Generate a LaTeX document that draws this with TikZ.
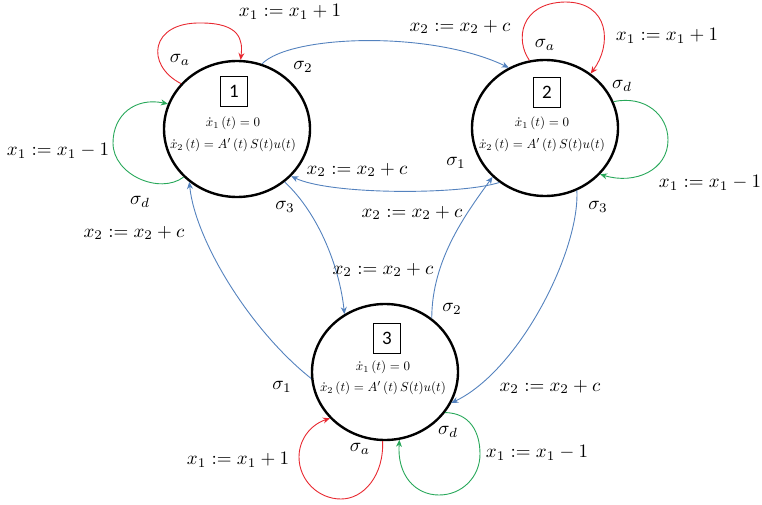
\documentclass[tikz,border=0pt]{standalone}
\usepackage{fontspec}
\newfontfamily\boxfont{Carlito}
\usetikzlibrary{shapes.geometric,arrows.meta}
\definecolor{redl}{RGB}{232,40,48}
\definecolor{greenl}{RGB}{40,168,90}
\definecolor{bluel}{RGB}{84,130,190}
\begin{document}
\begin{tikzpicture}[x=1pt,y=-1pt,
  state/.style={ellipse,draw,line width=2.4pt,minimum width=146pt,minimum height=136pt,inner sep=0pt},
  numbox/.style={draw,line width=0.8pt,minimum width=27pt,minimum height=30pt,inner sep=0pt,font=\boxfont\fontsize{19}{19}\selectfont},
  eqn/.style={scale=1.3,inner sep=0pt},
  lbl/.style={scale=1.9,inner sep=0pt},
  tip/.style={-{Stealth[length=7pt,width=6pt]}},
  blueedge/.style={draw=bluel,line width=0.9pt,tip},
  redloop/.style={draw=redl,line width=0.9pt,tip},
  greenloop/.style={draw=greenl,line width=0.9pt,tip}
]
\useasboundingbox (0,0) rectangle (762,505);

% states
\node[state] (n1) at (237,129) {};
\node[state] (n2) at (545,128) {};
\node[state] (n3) at (385,372) {};

% contents
\node[numbox] (b1) at (234,91) {1};
\node[eqn] (e1a) at (233,123) {$\dot{x}_1\left(t\right)=0$};
\node[eqn] (e1b) at (233,145) {$\dot{x}_2\left(t\right)=A'\left(t\right)S(t)u(t)$};
\node[numbox] (b2) at (547,92) {2};
\node[eqn] (e2a) at (542,123) {$\dot{x}_1\left(t\right)=0$};
\node[eqn] (e2b) at (542,145) {$\dot{x}_2\left(t\right)=A'\left(t\right)S(t)u(t)$};
\node[numbox] (b3) at (387,338) {3};
\node[eqn] (e3a) at (383,367) {$\dot{x}_1\left(t\right)=0$};
\node[eqn] (e3b) at (383,388) {$\dot{x}_2\left(t\right)=A'\left(t\right)S(t)u(t)$};

% self loops
\draw[redloop] (n1.141) .. controls (145,65) and (150,22) .. (201,23)
  .. controls (240,23) and (243,40) .. (n1.87);
\draw[greenloop] (n1.-138) .. controls (160,195) and (113,175) .. (113,143)
  .. controls (113,115) and (135,97) .. (n1.160);
\draw[redloop] (n2.103) .. controls (515,40) and (520,3) .. (565,2)
  .. controls (610,2) and (612,45) .. (n2.50);
\draw[greenloop] (n2.21) .. controls (645,95) and (668,115) .. (668,140)
  .. controls (668,170) and (635,185) .. (n2.-40);
\draw[redloop] (n3.-92) .. controls (384,475) and (364,499) .. (341,499)
  .. controls (318,499) and (299,480) .. (299,457)
  .. controls (299,440) and (310,425) .. (n3.-140);
\draw[greenloop] (n3.-34) .. controls (470,413) and (480,432) .. (480,454)
  .. controls (480,477) and (462,495) .. (439,495)
  .. controls (415,495) and (397,475) .. (n3.-78);

% transitions
\draw[blueedge] (n1.69) .. controls (290,35) and (430,30) .. (n2.121);
\draw[blueedge] (n2.-130) .. controls (460,195) and (330,195) .. (n1.-41);
\draw[blueedge] (n1.-48) .. controls (320,215) and (340,270) .. (n3.125);
\draw[blueedge] (n3.-175) .. controls (250,330) and (195,240) .. (n1.-132);
\draw[blueedge] (n3.49) .. controls (432,260) and (465,215) .. (n2.-137);
\draw[blueedge] (n2.-63) .. controls (580,250) and (520,370) .. (n3.-25);

% labels node 1
\node[lbl] (l1) at (290,12) {$x_1:=x_1+1$};
\node[lbl] (l2) at (180,60) {$\sigma_a$};
\node[lbl] (l3) at (58,151) {$x_1:=x_1-1$};
\node[lbl] (l4) at (140,202) {$\sigma_d$};
\node[lbl] (l5) at (303,67) {$\sigma_2$};
\node[lbl] (l6) at (285,207) {$\sigma_3$};
\node[lbl] (l7) at (134,233) {$x_2:=x_2+c$};
% labels node 2
\node[lbl] (l8) at (460,27) {$x_2:=x_2+c$};
\node[lbl] (l9) at (545,45) {$\sigma_a$};
\node[lbl] (l10) at (667,36) {$x_1:=x_1+1$};
\node[lbl] (l11) at (622,86) {$\sigma_d$};
\node[lbl] (l12) at (710,183) {$x_1:=x_1-1$};
\node[lbl] (l13) at (456,163) {$\sigma_1$};
\node[lbl] (l14) at (357,170) {$x_2:=x_2+c$};
\node[lbl] (l15) at (598,207) {$\sigma_3$};
\node[lbl] (l16) at (412,213) {$x_2:=x_2+c$};
% labels middle / node 3
\node[lbl] (l17) at (383,270) {$x_2:=x_2+c$};
\node[lbl] (l18) at (452,309) {$\sigma_2$};
\node[lbl] (l19) at (282,387) {$\sigma_1$};
\node[lbl] (l20) at (550,387) {$x_2:=x_2+c$};
\node[lbl] (l21) at (238,460) {$x_1:=x_1+1$};
\node[lbl] (l22) at (360,449) {$\sigma_a$};
\node[lbl] (l23) at (448,432) {$\sigma_d$};
\node[lbl] (l24) at (537,453) {$x_1:=x_1-1$};
\end{tikzpicture}
\end{document}
